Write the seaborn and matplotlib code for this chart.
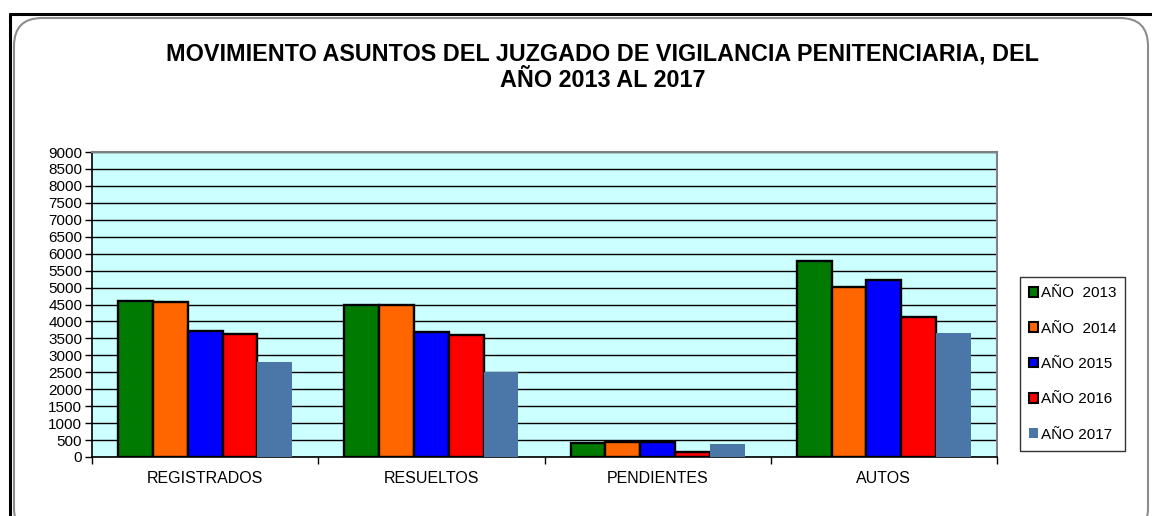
import matplotlib
matplotlib.use("Agg")
import matplotlib.pyplot as plt
import matplotlib.transforms as mtransforms
import numpy as np
import pandas as pd
import seaborn as sns
from matplotlib.lines import Line2D
from matplotlib.patches import FancyBboxPatch, Patch

CATEGORIES = ["REGISTRADOS", "RESUELTOS", "PENDIENTES", "AUTOS"]
YEARS = ["AÑO  2013", "AÑO  2014", "AÑO 2015", "AÑO 2016", "AÑO 2017"]
V2013 = [4600, 4480, 400, 5790]
V2014 = [4570, 4480, 430, 5020]
V2015 = [3710, 3700, 450, 5220]
V2016 = [3620, 3600, 150, 4140]
V2017 = [2800, 2520, 370, 3670]
COLORS = ["#007A00", "#FF6600", "#0000FF", "#FF0000", "#4A76A8"]
TITLE = "MOVIMIENTO ASUNTOS DEL JUZGADO DE VIGILANCIA PENITENCIARIA, DEL\nAÑO 2013 AL 2017"

rows = []
for year, vals in zip(YEARS, [V2013, V2014, V2015, V2016, V2017]):
    for cat, v in zip(CATEGORIES, vals):
        rows.append({"categoria": cat, "anio": year, "valor": v})
df = pd.DataFrame(rows)

sns.set_style("white")
plt.rcParams["font.family"] = ["Liberation Sans", "DejaVu Sans"]
plt.rcParams["text.color"] = "black"
plt.rcParams["xtick.color"] = "black"
plt.rcParams["ytick.color"] = "black"

W, H = 1152, 516
fig = plt.figure(figsize=(W / 100, H / 100), dpi=100)
ax = fig.add_axes([92 / W, 1 - 457 / H, (997 - 92) / W, (457 - 152) / H])
ax.set_facecolor("#CCFFFF")

sns.barplot(
    data=df, x="categoria", y="valor", hue="anio",
    order=CATEGORIES, hue_order=YEARS, palette=COLORS,
    width=0.77, saturation=1, edgecolor="black", linewidth=1.7,
    legend=False, ax=ax, zorder=3,
)
# last series has no outline
for bar in ax.containers[-1]:
    bar.set_edgecolor("none")

ax.set_xlim(-0.5, len(CATEGORIES) - 0.5)
ax.set_ylim(0, 9000)
ax.set_yticks(np.arange(0, 9001, 500))
ax.set_yticklabels([str(v) for v in range(0, 9001, 500)], fontsize=11)
ax.yaxis.grid(True, color="black", linewidth=1.0, zorder=0)
ax.set_axisbelow(True)
ax.tick_params(axis="y", direction="out", length=5, width=1, color="black", pad=2, left=True)

ax.set_xticks(range(len(CATEGORIES)))
ax.set_xticklabels(CATEGORIES, fontsize=11.5)
ax.set_xticks(np.arange(-0.5, len(CATEGORIES)), minor=True)
ax.tick_params(axis="x", which="major", length=0, pad=10)
ax.tick_params(axis="x", which="minor", direction="out", length=5, width=1, color="black", bottom=True)
ax.set_xlabel("")
ax.set_ylabel("")

for side in ["left", "bottom"]:
    ax.spines[side].set_color("black")
    ax.spines[side].set_linewidth(1.2)
for side in ["top", "right"]:
    ax.spines[side].set_color("#808080")
    ax.spines[side].set_linewidth(1.5)

fig.text(603 / W, 1 - 67 / H, TITLE, ha="center", va="center", color="black",
         fontsize=16.8, fontweight="bold", linespacing=1.2)

handles = []
for c, y in zip(COLORS, YEARS):
    ec = "none" if y == YEARS[-1] else "black"
    handles.append(Patch(facecolor=c, edgecolor=ec, linewidth=1.5))
leg = fig.legend(handles, YEARS, loc="upper left",
                 bbox_to_anchor=(1020 / W, 1 - 277 / H),
                 fontsize=11, frameon=True, fancybox=False,
                 handlelength=0.6, handleheight=0.6, handletextpad=0.15,
                 labelspacing=1.4, borderpad=0.6, borderaxespad=0)
leg.get_frame().set_edgecolor("black")
leg.get_frame().set_linewidth(1.0)

# outer frame like the spreadsheet chart area
ident = mtransforms.IdentityTransform()
fig.add_artist(FancyBboxPatch((14, -20), 1134, H - 18 + 20,
                              boxstyle="round,pad=0,rounding_size=28",
                              facecolor="none", edgecolor="#8C8C8C",
                              linewidth=1.5, transform=ident))
fig.add_artist(Line2D([10 / W, 1], [1 - 14 / H, 1 - 14 / H], color="black",
                      linewidth=2.2, transform=fig.transFigure))
fig.add_artist(Line2D([10 / W, 10 / W], [0, 1 - 14 / H], color="black",
                      linewidth=2.2, transform=fig.transFigure))

fig.savefig("out.png", dpi=100, facecolor="white")
